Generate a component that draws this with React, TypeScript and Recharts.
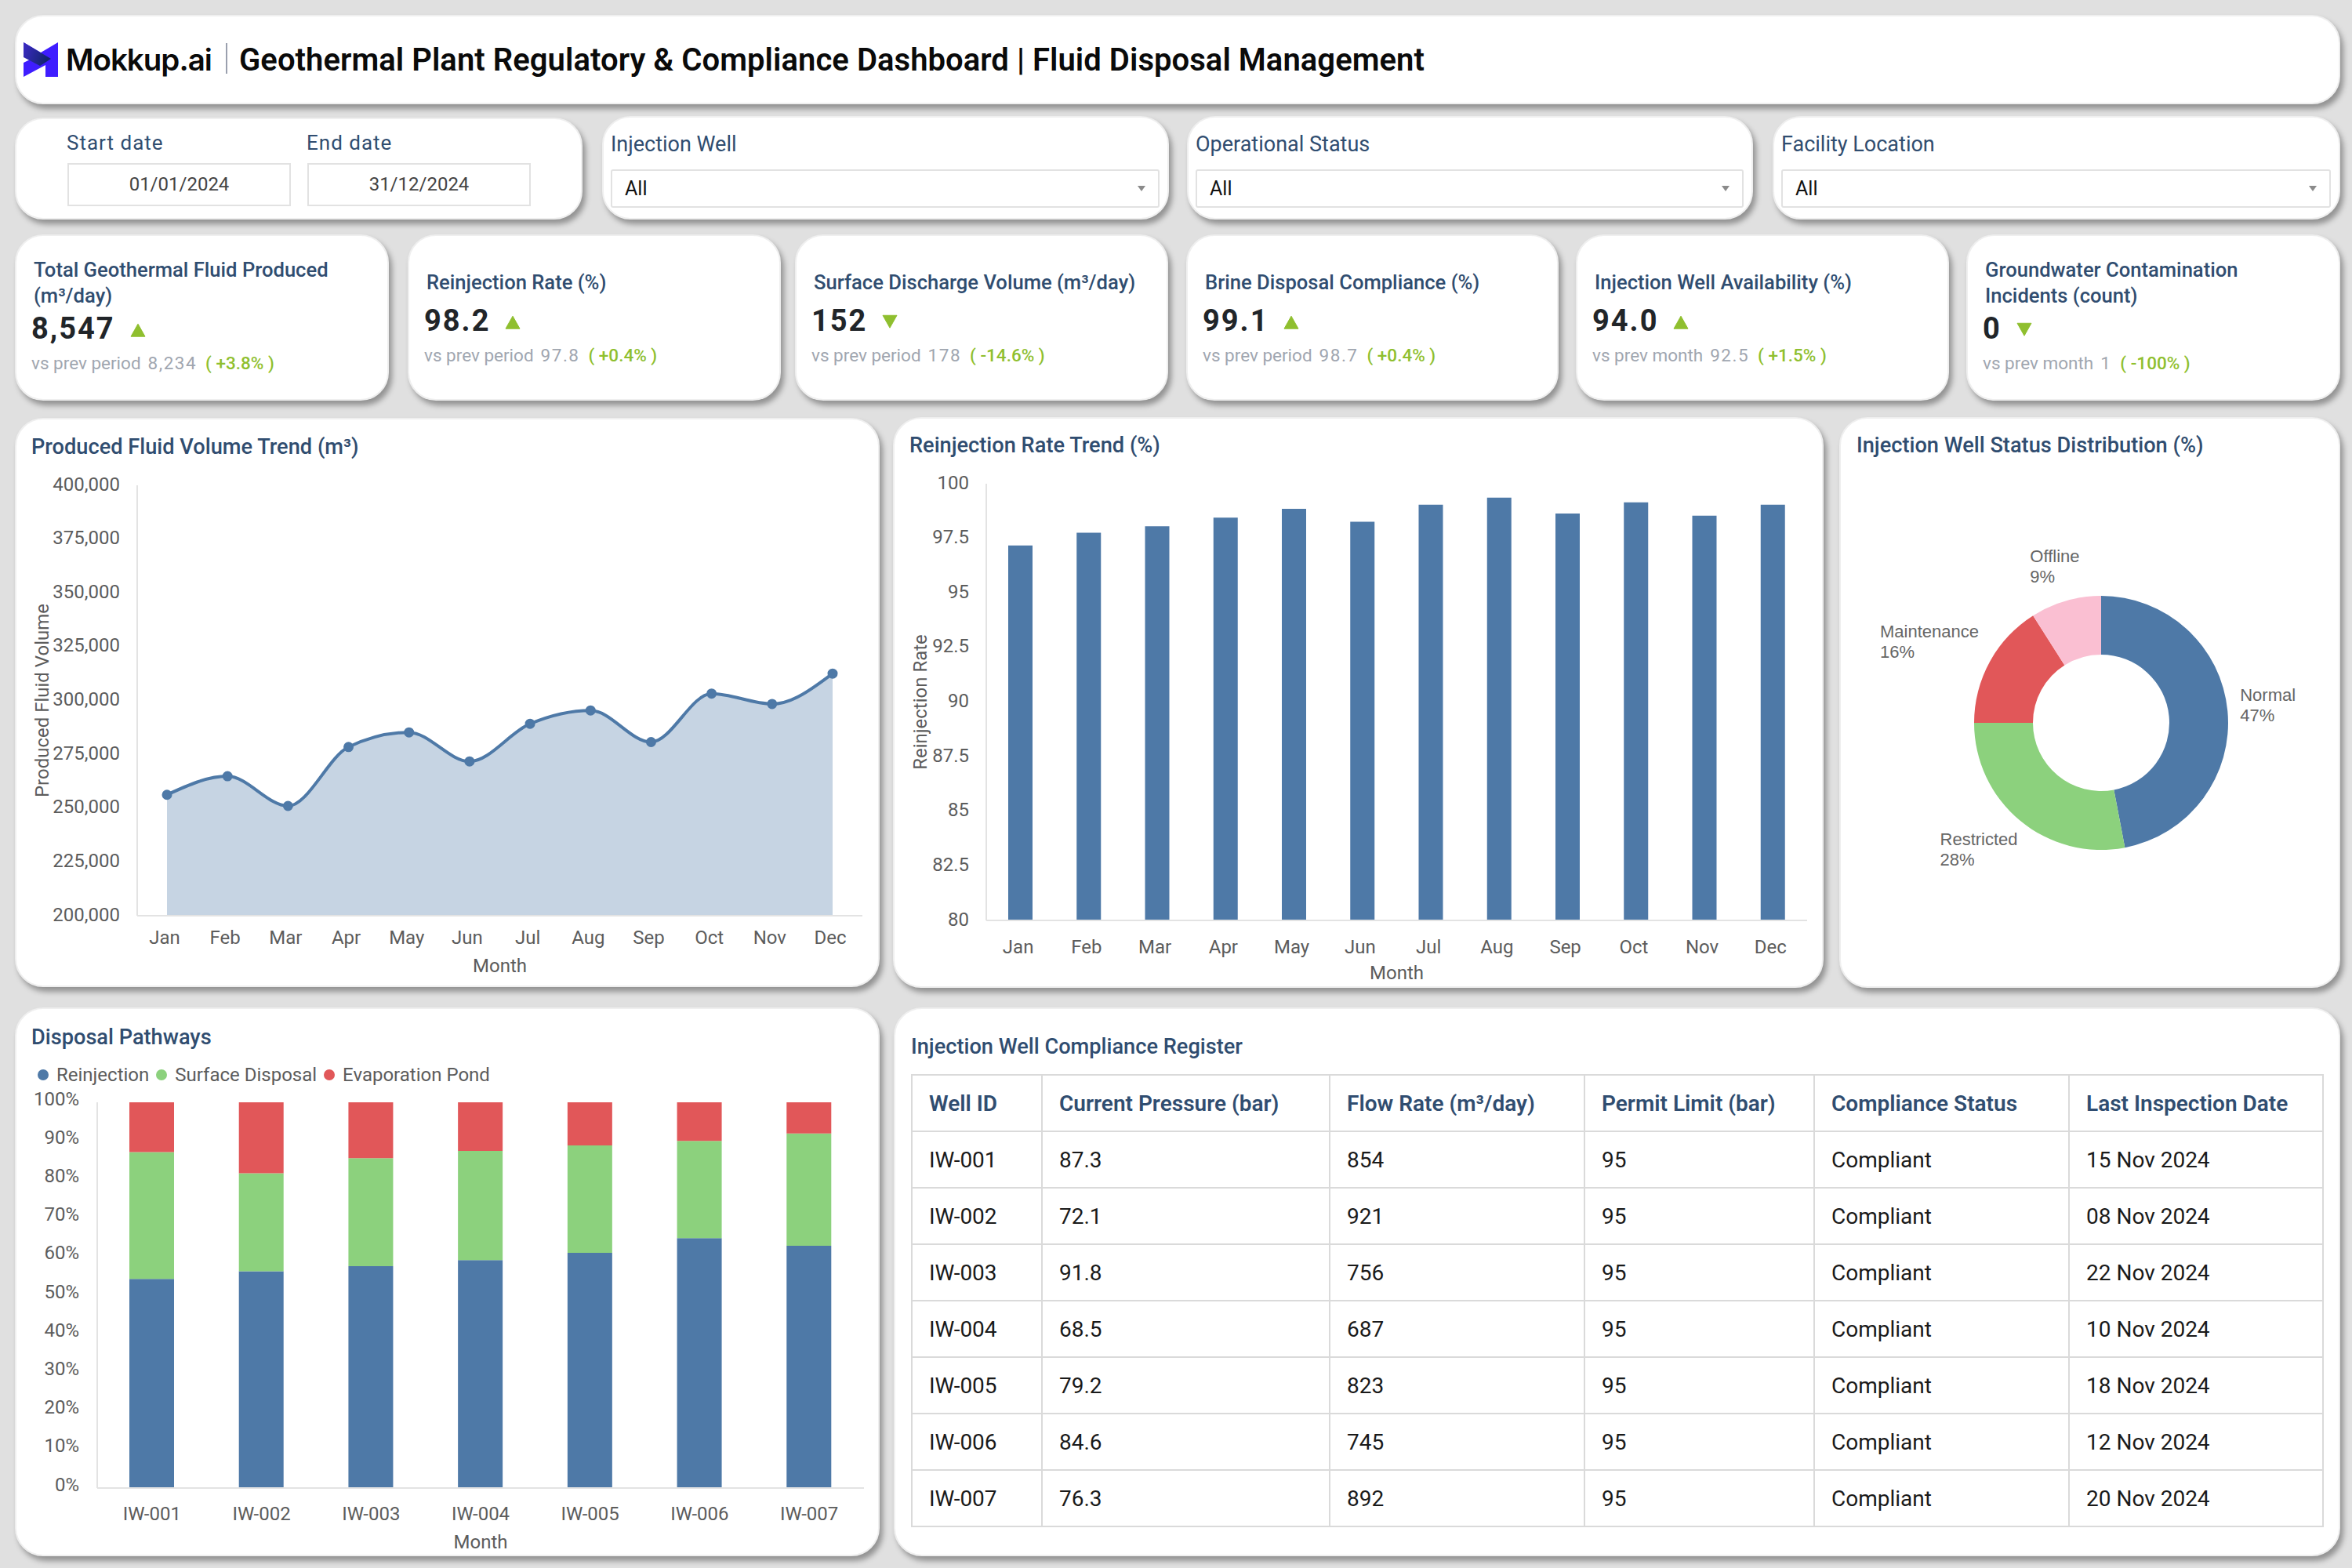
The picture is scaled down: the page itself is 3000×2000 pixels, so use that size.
import React from 'react'
import { AreaChart, Area, BarChart, Bar, PieChart, Pie, Cell, XAxis, YAxis, Legend } from 'recharts'

const months = ['Jan', 'Feb', 'Mar', 'Apr', 'May', 'Jun', 'Jul', 'Aug', 'Sep', 'Oct', 'Nov', 'Dec']
const fluidVolume = [256200, 264800, 251000, 278400, 285200, 271700, 289200, 295400, 280700, 303200, 298400, 312500]
const fluidTicks = [200000, 225000, 250000, 275000, 300000, 325000, 350000, 375000, 400000]
const reinjectionRate = [97.17, 97.76, 98.05, 98.45, 98.85, 98.26, 99.04, 99.36, 98.64, 99.15, 98.54, 99.04]
const rateTicks = [80, 82.5, 85, 87.5, 90, 92.5, 95, 97.5, 100]

const statusNames = ['Normal', 'Restricted', 'Maintenance', 'Offline']
const statusShares = [47, 28, 16, 9]

const wells = ['IW-001', 'IW-002', 'IW-003', 'IW-004', 'IW-005', 'IW-006', 'IW-007']
const reinjectionShare = [54.2, 56.2, 57.5, 59.1, 61.0, 64.8, 62.8]
const surfaceShare = [32.9, 25.4, 28.0, 28.3, 27.8, 25.2, 29.1]
const evaporationShare = [12.9, 18.4, 14.5, 12.6, 11.2, 10.0, 8.1]
const shareTicks = [0, 10, 20, 30, 40, 50, 60, 70, 80, 90, 100]

const kpiTitles = [
  ['Total Geothermal Fluid Produced', '(m³/day)'],
  ['Reinjection Rate (%)'],
  ['Surface Discharge Volume (m³/day)'],
  ['Brine Disposal Compliance (%)'],
  ['Injection Well Availability (%)'],
  ['Groundwater Contamination', 'Incidents (count)'],
]
const kpiValues = ['8,547', '98.2', '152', '99.1', '94.0', '0']
const kpiUp = [true, true, false, true, true, false]
const kpiCompareLabels = ['vs prev period', 'vs prev period', 'vs prev period', 'vs prev period', 'vs prev month', 'vs prev month']
const kpiCompareValues = ['8,234', '97.8', '178', '98.7', '92.5', '1']
const kpiDeltas = ['+3.8%', '+0.4%', '-14.6%', '+0.4%', '+1.5%', '-100%']

const tableHeaders = ['Well ID', 'Current Pressure (bar)', 'Flow Rate (m³/day)', 'Permit Limit (bar)', 'Compliance Status', 'Last Inspection Date']
const pressures = ['87.3', '72.1', '91.8', '68.5', '79.2', '84.6', '76.3']
const flowRates = ['854', '921', '756', '687', '823', '745', '892']
const permitLimits = ['95', '95', '95', '95', '95', '95', '95']
const complianceStatus = ['Compliant', 'Compliant', 'Compliant', 'Compliant', 'Compliant', 'Compliant', 'Compliant']
const inspectionDates = ['15 Nov 2024', '08 Nov 2024', '22 Nov 2024', '10 Nov 2024', '18 Nov 2024', '12 Nov 2024', '20 Nov 2024']

const NAVY = '#304d70'
const BLUE = '#4e79a7'
const GREEN = '#8cd17d'
const RED = '#e15759'
const PINK = '#fabfd2'
const LIME = '#8fbf2f'
const AXIS = '#e3e3e3'
const TICK = '#5c5c5c'
const FONT = 'Roboto, sans-serif'

const pieColors = [BLUE, GREEN, RED, PINK]
// where each donut label block sits relative to a point just outside its slice
const pieLabelNudge = [[0, -6], [-92, 24], [-126, -18], [-41, -29]]

const fluidData = months.map((month, i) => ({ month, volume: fluidVolume[i] }))
const rateData = months.map((month, i) => ({ month, rate: reinjectionRate[i] }))
const statusData = statusNames.map((name, i) => ({ name, value: statusShares[i] }))
const pathwayData = wells.map((well, i) => ({
  well,
  Reinjection: reinjectionShare[i],
  'Surface Disposal': surfaceShare[i],
  'Evaporation Pond': evaporationShare[i],
}))

const tickStyle = { fill: TICK, fontSize: 24, fontFamily: FONT }
const axisTitle = { fill: TICK, fontSize: 24, fontFamily: FONT, textAnchor: 'middle' as const }

function Card({ x, y, r, b }: { x: number; y: number; r: number; b: number }) {
  return (
    <div
      style={{
        position: 'absolute',
        left: x,
        top: y,
        width: r - x,
        height: b - y,
        boxSizing: 'border-box',
        background: '#fff',
        border: '2px solid #efefef',
        borderRadius: 36,
        boxShadow: '4px 6px 7px rgba(0,0,0,0.35)',
      }}
    />
  )
}

function Txt({ x, y, size, color, weight, spacing, children }: any) {
  return (
    <div
      style={{
        position: 'absolute',
        left: x,
        top: y,
        transform: 'translateY(-50%)',
        fontFamily: FONT,
        fontSize: size,
        color,
        fontWeight: weight || 400,
        letterSpacing: spacing || 0,
        whiteSpace: 'nowrap',
        lineHeight: 1.2,
      }}
    >
      {children}
    </div>
  )
}

function Triangle({ up }: { up: boolean }) {
  return (
    <svg width={20} height={18} viewBox="0 0 20 18" style={{ marginLeft: 19, marginTop: up ? 2 : 0 }}>
      <polygon points={up ? '10,1 19,17 1,17' : '1,1 19,1 10,17'} fill={LIME} stroke={LIME} strokeLinejoin="round" />
    </svg>
  )
}

function Kpi({ i, x, r }: { i: number; x: number; r: number }) {
  const twoLine = kpiTitles[i].length > 1
  const left = x + 22
  return (
    <>
      <Card x={x} y={299} r={r} b={511} />
      {kpiTitles[i].map((line, n) => (
        <Txt key={line} x={left + 2} y={(twoLine ? 344 : 360) + n * 33} size={25.6} color={NAVY} weight={500}>
          {line}
        </Txt>
      ))}
      <div
        style={{
          position: 'absolute',
          left: left - 1,
          top: twoLine ? 420 : 410,
          transform: 'translateY(-50%)',
          display: 'flex',
          alignItems: 'center',
          fontFamily: FONT,
          fontSize: 38,
          fontWeight: 700,
          letterSpacing: 2,
          color: '#212529',
          lineHeight: 1.2,
        }}
      >
        {kpiValues[i]}
        <Triangle up={kpiUp[i]} />
      </div>
      <Txt x={left - 1} y={twoLine ? 463 : 453} size={22.5} color="#a0a6b0">
        {kpiCompareLabels[i]}
        <span style={{ marginLeft: 9, letterSpacing: 1.5 }}>{kpiCompareValues[i]}</span>
        <span style={{ marginLeft: 11, color: LIME, fontWeight: 500 }}>(&nbsp;{kpiDeltas[i]}&nbsp;)</span>
      </Txt>
    </>
  )
}

function Filter({ x, r, label }: { x: number; r: number; label: string }) {
  return (
    <>
      <Card x={x - 11} y={148} r={r + 12} b={280} />
      <Txt x={x} y={184} size={27} color={NAVY}>
        {label}
      </Txt>
      <div
        style={{
          position: 'absolute',
          left: x,
          top: 216,
          width: r - x,
          height: 49,
          boxSizing: 'border-box',
          border: '2px solid #e2e2e2',
          borderRadius: 3,
        }}
      />
      <Txt x={x + 18} y={241} size={25} color="#111">
        All
      </Txt>
      <svg width={12} height={9} style={{ position: 'absolute', left: r - 29, top: 236 }}>
        <polygon points="1,1 11,1 6,8" fill="#8b8b8b" />
      </svg>
    </>
  )
}

function DateBox({ x, label, value }: { x: number; label: string; value: string }) {
  return (
    <>
      <Txt x={x - 1} y={183} size={26} color={NAVY} spacing={1}>
        {label}
      </Txt>
      <div
        style={{
          position: 'absolute',
          left: x,
          top: 208,
          width: 285,
          height: 55,
          boxSizing: 'border-box',
          border: '2px solid #e2e2e2',
          textAlign: 'center',
          lineHeight: '50px',
          fontFamily: FONT,
          fontSize: 24,
          color: '#444',
        }}
      >
        {value}
      </div>
    </>
  )
}

function Logo() {
  return (
    <svg width={44} height={44} viewBox="0 0 44 44" style={{ position: 'absolute', left: 30, top: 54 }}>
      <defs>
        <linearGradient id="logoShade" x1="0" y1="0" x2="1" y2="0.3">
          <stop offset="0" stopColor="#3c2bc4" />
          <stop offset="1" stopColor="#12246e" />
        </linearGradient>
      </defs>
      <polygon points="0,0 22,13 44,0 44,44 28,44 28,29 0,44 0,26 12,20 0,14" fill="#3f1dff" />
      <polygon points="0,0 35,21 21,30 0,19" fill="url(#logoShade)" />
    </svg>
  )
}

function PieLabel(props: any) {
  const { cx, cy, midAngle, outerRadius, index, name, value } = props
  const rad = (midAngle * Math.PI) / 180
  const r = outerRadius + 16
  const x = cx + r * Math.cos(rad) + pieLabelNudge[index][0]
  const y = cy - r * Math.sin(rad) + pieLabelNudge[index][1]
  return (
    <text x={x} y={y - 5} fill="#666" fontSize={22} fontFamily="'Liberation Sans', Arial, sans-serif">
      <tspan x={x}>{name}</tspan>
      <tspan x={x} dy={26}>{value}%</tspan>
    </text>
  )
}

function PathwayLegend({ payload }: any) {
  return (
    <div style={{ display: 'flex', alignItems: 'center', fontFamily: FONT, fontSize: 24, color: TICK, height: 30 }}>
      {(payload || []).map((item: any) => (
        <span key={item.value} style={{ display: 'flex', alignItems: 'center', marginRight: 9 }}>
          <span style={{ width: 14, height: 14, borderRadius: 7, background: item.color, marginRight: 10 }} />
          {item.value}
        </span>
      ))}
    </div>
  )
}

function FluidChart() {
  return (
    <div style={{ position: 'absolute', left: 30, top: 600 }}>
      <AreaChart width={1090} height={655} data={fluidData} margin={{ top: 19, right: 20, bottom: 0, left: 0 }}>
        <XAxis
          dataKey="month"
          interval={0}
          tickSize={0}
          tickMargin={19}
          tick={{ ...tickStyle, dx: -3 }}
          padding={{ left: 38, right: 38 }}
          stroke={AXIS}
          strokeWidth={2}
          height={87}
          label={{ value: 'Month', position: 'insideBottom', offset: 15, style: axisTitle }}
        />
        <YAxis
          domain={[200000, 400000]}
          ticks={fluidTicks}
          interval={0}
          width={145}
          tickSize={0}
          tickMargin={22}
          tick={{ ...tickStyle, dy: -2 }}
          stroke={AXIS}
          strokeWidth={2}
          tickFormatter={(v: number) => v.toLocaleString('en-US')}
          label={{ value: 'Produced Fluid Volume', angle: -90, position: 'insideLeft', offset: 23, style: axisTitle }}
        />
        <Area
          type="monotone"
          dataKey="volume"
          stroke={BLUE}
          strokeWidth={4}
          fill={BLUE}
          fillOpacity={0.32}
          dot={{ r: 5.5, fill: BLUE, stroke: BLUE, strokeWidth: 2, fillOpacity: 1 }}
          isAnimationActive={false}
        />
      </AreaChart>
    </div>
  )
}

function RateChart() {
  return (
    <div style={{ position: 'absolute', left: 1150, top: 590 }}>
      <BarChart width={1170} height={670} data={rateData} margin={{ top: 27, right: 15, bottom: 0, left: 0 }}>
        <XAxis
          dataKey="month"
          interval={0}
          tickSize={0}
          tickMargin={25}
          tick={{ ...tickStyle, dx: -3 }}
          stroke={AXIS}
          strokeWidth={2}
          height={86}
          label={{ value: 'Month', position: 'insideBottom', offset: 11, style: axisTitle }}
        />
        <YAxis
          domain={[80, 100]}
          ticks={rateTicks}
          interval={0}
          width={108}
          tickSize={0}
          tickMargin={22}
          tick={{ ...tickStyle, dy: -2 }}
          stroke={AXIS}
          strokeWidth={2}
          label={{ value: 'Reinjection Rate', angle: -90, position: 'insideLeft', offset: 23, style: axisTitle }}
        />
        <Bar dataKey="rate" fill={BLUE} barSize={31} isAnimationActive={false} />
      </BarChart>
    </div>
  )
}

function StatusChart() {
  return (
    <div style={{ position: 'absolute', left: 2360, top: 590 }}>
      <PieChart width={620} height={660} margin={{ top: 0, right: 0, bottom: 0, left: 0 }}>
        <Pie
          data={statusData}
          dataKey="value"
          nameKey="name"
          cx={320}
          cy={332}
          innerRadius={87}
          outerRadius={162}
          startAngle={90}
          endAngle={-270}
          stroke="none"
          label={PieLabel}
          labelLine={false}
          isAnimationActive={false}
        >
          {statusData.map((d, i) => (
            <Cell key={d.name} fill={pieColors[i]} />
          ))}
        </Pie>
      </PieChart>
    </div>
  )
}

function PathwayChart() {
  return (
    <div style={{ position: 'absolute', left: 30, top: 1356 }}>
      <BarChart width={1090} height={624} data={pathwayData} margin={{ top: 20, right: 18, bottom: 0, left: 0 }}>
        <Legend
          verticalAlign="top"
          align="left"
          itemSorter={null}
          content={<PathwayLegend />}
          wrapperStyle={{ top: 0, left: 18, width: 900, height: 30 }}
        />
        <XAxis
          dataKey="well"
          interval={0}
          tickSize={0}
          tickMargin={24}
          tick={tickStyle}
          stroke={AXIS}
          strokeWidth={2}
          height={82}
          label={{ value: 'Month', position: 'insideBottom', offset: 5, style: axisTitle }}
        />
        <YAxis
          domain={[0, 100]}
          ticks={shareTicks}
          interval={0}
          width={94}
          tickSize={0}
          tickMargin={23}
          tick={{ ...tickStyle, dy: -5 }}
          stroke={AXIS}
          strokeWidth={2}
          tickFormatter={(v: number) => `${v}%`}
        />
        <Bar dataKey="Reinjection" stackId="a" fill={BLUE} barSize={57} isAnimationActive={false} />
        <Bar dataKey="Surface Disposal" stackId="a" fill={GREEN} barSize={57} isAnimationActive={false} />
        <Bar dataKey="Evaporation Pond" stackId="a" fill={RED} barSize={57} isAnimationActive={false} />
      </BarChart>
    </div>
  )
}

function ComplianceTable() {
  const colWidths = [166, 367, 325, 293, 325, 324]
  const cell: React.CSSProperties = {
    border: '2px solid #dadada',
    padding: '0 0 0 21px',
    height: 72,
    boxSizing: 'border-box',
    textAlign: 'left',
    overflow: 'hidden',
    whiteSpace: 'nowrap',
  }
  return (
    <table
      style={{
        position: 'absolute',
        left: 1162,
        top: 1370,
        width: 1800,
        tableLayout: 'fixed',
        borderCollapse: 'collapse',
        fontFamily: FONT,
        fontSize: 28,
        color: '#1a1a1a',
      }}
    >
      <colgroup>
        {colWidths.map((w, i) => (
          <col key={i} style={{ width: w }} />
        ))}
      </colgroup>
      <thead>
        <tr>
          {tableHeaders.map(h => (
            <th key={h} style={{ ...cell, color: NAVY, fontWeight: 600 }}>
              {h}
            </th>
          ))}
        </tr>
      </thead>
      <tbody>
        {wells.map((well, i) => (
          <tr key={well}>
            <td style={cell}>{well}</td>
            <td style={cell}>{pressures[i]}</td>
            <td style={cell}>{flowRates[i]}</td>
            <td style={cell}>{permitLimits[i]}</td>
            <td style={cell}>{complianceStatus[i]}</td>
            <td style={cell}>{inspectionDates[i]}</td>
          </tr>
        ))}
      </tbody>
    </table>
  )
}

export default function App() {
  return (
    <div style={{ position: 'absolute', left: 0, top: 0, width: 3000, height: 2000, background: '#e0e0e0', overflow: 'hidden' }}>
      {/* Header */}
      <Card x={19} y={19} r={2985} b={133} />
      <Logo />
      <div style={{ position: 'absolute', left: 84, top: 76, transform: 'translateY(-50%)', fontFamily: 'Inter, sans-serif', fontSize: 38.5, fontWeight: 600, letterSpacing: -1, color: '#0a0a0a' }}>
        Mokkup.ai
      </div>
      <div style={{ position: 'absolute', left: 288, top: 55, width: 2, height: 39, background: '#9aa0ae' }} />
      <Txt x={305} y={77} size={40} color="#0a0a0a" weight={600} spacing={0.05}>
        Geothermal Plant Regulatory &amp; Compliance Dashboard | Fluid Disposal Management
      </Txt>

      {/* Filters */}
      <Card x={19} y={150} r={743} b={280} />
      <DateBox x={86} label="Start date" value="01/01/2024" />
      <DateBox x={392} label="End date" value="31/12/2024" />
      <Filter x={779} r={1479} label="Injection Well" />
      <Filter x={1525} r={2224} label="Operational Status" />
      <Filter x={2272} r={2973} label="Facility Location" />

      {/* KPI cards */}
      <Kpi i={0} x={19} r={496} />
      <Kpi i={1} x={520} r={996} />
      <Kpi i={2} x={1014} r={1490} />
      <Kpi i={3} x={1513} r={1988} />
      <Kpi i={4} x={2010} r={2486} />
      <Kpi i={5} x={2508} r={2985} />

      {/* Charts */}
      <Card x={19} y={533} r={1122} b={1259} />
      <Txt x={40} y={570} size={27.2} color={NAVY} weight={500}>Produced Fluid Volume Trend (m³)</Txt>
      <FluidChart />

      <Card x={1139} y={532} r={2326} b={1260} />
      <Txt x={1160} y={568} size={27.2} color={NAVY} weight={500}>Reinjection Rate Trend (%)</Txt>
      <RateChart />

      <Card x={2346} y={532} r={2985} b={1260} />
      <Txt x={2368} y={568} size={27.2} color={NAVY} weight={500}>Injection Well Status Distribution (%)</Txt>
      <StatusChart />

      <Card x={19} y={1285} r={1122} b={1985} />
      <Txt x={40} y={1323} size={27.2} color={NAVY} weight={500}>Disposal Pathways</Txt>
      <PathwayChart />

      <Card x={1140} y={1285} r={2985} b={1985} />
      <Txt x={1162} y={1335} size={27.2} color={NAVY} weight={500}>Injection Well Compliance Register</Txt>
      <ComplianceTable />
    </div>
  )
}
